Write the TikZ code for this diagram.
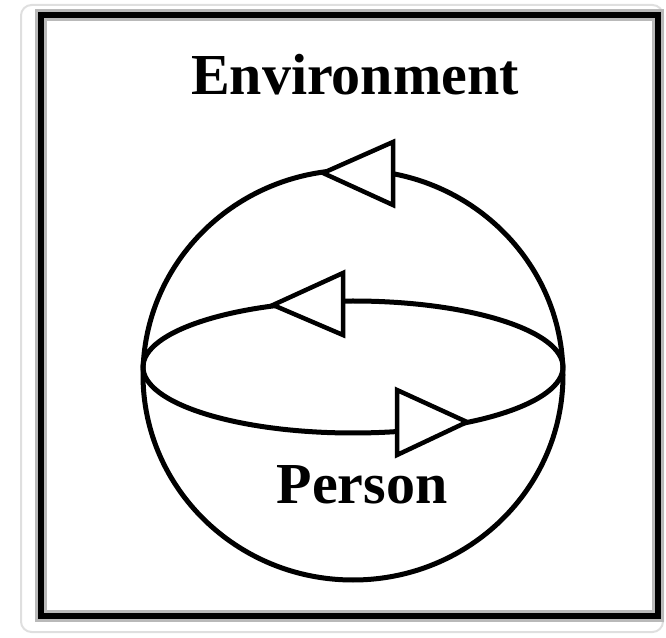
\documentclass[tikz,border=0pt]{standalone}
\usepackage{fontspec}
\setmainfont{Liberation Serif}
\usetikzlibrary{positioning}

\tikzset{
  seta/.style={draw=black, fill=white, line width=0.9mm, line join=miter},
  contorno/.style={draw=black, line width=1mm},
  rotulo/.style={font=\fontsize{33}{40}\selectfont\bfseries, anchor=base, inner sep=0pt},
}

\begin{document}
\begin{tikzpicture}[x=0.2mm, y=0.2mm]
  \useasboundingbox (0,0) rectangle (666,637);
  % Moldura
  \draw[gray!25, line width=0.4mm, rounded corners=6pt] (21,5) rectangle (663,632);
  \draw[gray!55, line width=2.4mm] (41,21) rectangle (658,622);
  \draw[black, line width=1.3mm] (41,21) rectangle (658,622);
  % Esfera e equador
  \draw[contorno] (353,262) ellipse [x radius=210, y radius=205];
  \draw[contorno] (353,270) ellipse [x radius=210, y radius=66];
  % Setas abertas
  \draw[seta] (323,464) -- (393,495) -- (393,432) -- cycle;
  \draw[seta] (273,332) -- (343,364) -- (343,302) -- cycle;
  \draw[seta] (467,215) -- (397,247) -- (397,182) -- cycle;
  % Rotulos
  \node[rotulo] (ambiente) at (355,542) {Environment};
  \node[rotulo] (pessoa) at (362,134) {Person};
\end{tikzpicture}
\end{document}
